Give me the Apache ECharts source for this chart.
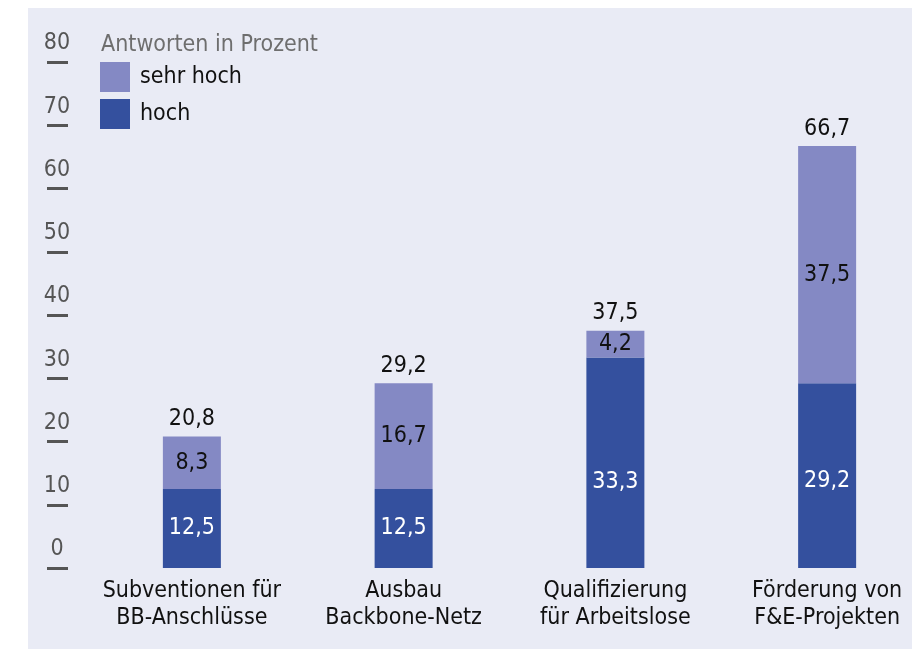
<!DOCTYPE html>
<html>
<head>
<meta charset="utf-8">
<script src="https://cdn.jsdelivr.net/npm/echarts@6/dist/echarts.min.js"></script>
<style>
  html, body { margin: 0; padding: 0; background: #ffffff; }
  #main { width: 912px; height: 649px; }
</style>
</head>
<body>
<div id="main"></div>
<script>
// Kategorien und Werte (Antworten in Prozent)
const categories = ['Subventionen für\nBB-Anschlüsse', 'Ausbau\nBackbone-Netz', 'Qualifizierung\nfür Arbeitslose', 'Förderung von\nF&E-Projekten'];
const hoch = [12.5, 12.5, 33.3, 29.2];
const sehrHoch = [8.3, 16.7, 4.2, 37.5];
const totals = [20.8, 29.2, 37.5, 66.7];
const yTicks = [0, 10, 20, 30, 40, 50, 60, 70, 80];
// vertikale Verschiebung der Beschriftungen in den Balken
const hochLabelShift = [0, 0, 19, 5];
const sehrHochLabelShift = [0, 0, 0, 10];

const fontFam = '"Liberation Sans Narrow", "DejaVu Sans Condensed", sans-serif';
const komma = v => v.toFixed(1).replace('.', ',');

let myChart = echarts.init(document.getElementById('main'));
let option = {
    backgroundColor: '#ffffff',
    animation: false,
    textStyle: { fontFamily: fontFam },
    graphic: [{
        type: 'rect',
        left: 28, top: 8, z: -10, silent: true,
        shape: { width: 884, height: 641 },
        style: { fill: '#e9ebf5' }
    }],
    title: {
        text: 'Antworten in Prozent',
        left: 96, top: 29,
        textStyle: { fontFamily: fontFam, fontSize: 23, fontWeight: 'normal', color: '#6e6e6e' }
    },
    legend: {
        data: ['sehr hoch', 'hoch'],
        orient: 'vertical',
        left: 100, top: 62, padding: 0,
        itemWidth: 30, itemHeight: 30, itemGap: 7,
        icon: 'rect',
        textStyle: { fontFamily: fontFam, fontSize: 23, color: '#111', padding: [0, 0, 0, 5] }
    },
    grid: { left: 86, top: 62, width: 847, bottom: 81, outerBoundsMode: 'none', containLabel: false },
    xAxis: {
        type: 'category',
        data: categories,
        axisLine: { show: false },
        axisTick: { show: false },
        axisLabel: { fontFamily: fontFam, fontSize: 23, color: '#111', lineHeight: 27, margin: 10, interval: 0 }
    },
    yAxis: {
        type: 'value',
        min: yTicks[0], max: yTicks[yTicks.length - 1], interval: 10,
        offset: 18,
        axisLine: { show: false },
        splitLine: { show: false },
        axisTick: { show: true, length: 21, lineStyle: { color: '#555', width: 3 } },
        axisLabel: {
            fontFamily: fontFam, fontSize: 23, color: '#555',
            align: 'center', verticalAlign: 'bottom', margin: 11,
            padding: [0, 0, 7, 0]
        }
    },
    series: [{
        name: 'hoch',
        type: 'bar',
        stack: 'a',
        barWidth: 58,
        data: hoch.map((v, i) => ({ value: v, label: { offset: [0, hochLabelShift[i]] } })),
        itemStyle: { color: '#34509e' },
        label: {
            show: true, position: 'inside', color: '#ffffff',
            fontFamily: fontFam, fontSize: 23,
            formatter: p => komma(p.value)
        }
    }, {
        name: 'sehr hoch',
        type: 'bar',
        stack: 'a',
        barWidth: 58,
        data: sehrHoch.map((v, i) => ({ value: v, label: { offset: [0, sehrHochLabelShift[i]] } })),
        itemStyle: { color: '#8489c4' },
        label: {
            show: true, position: 'inside', color: '#111',
            fontFamily: fontFam, fontSize: 23,
            formatter: p => komma(p.value)
        }
    }, {
        name: 'summe',
        type: 'bar',
        stack: 'a',
        barWidth: 58,
        data: totals.map(() => 0),
        itemStyle: { color: 'transparent' },
        label: {
            show: true, position: 'top', distance: 6, color: '#111',
            fontFamily: fontFam, fontSize: 23,
            formatter: p => komma(totals[p.dataIndex])
        }
    }]
};
myChart.setOption(option);
</script>
</body>
</html>
